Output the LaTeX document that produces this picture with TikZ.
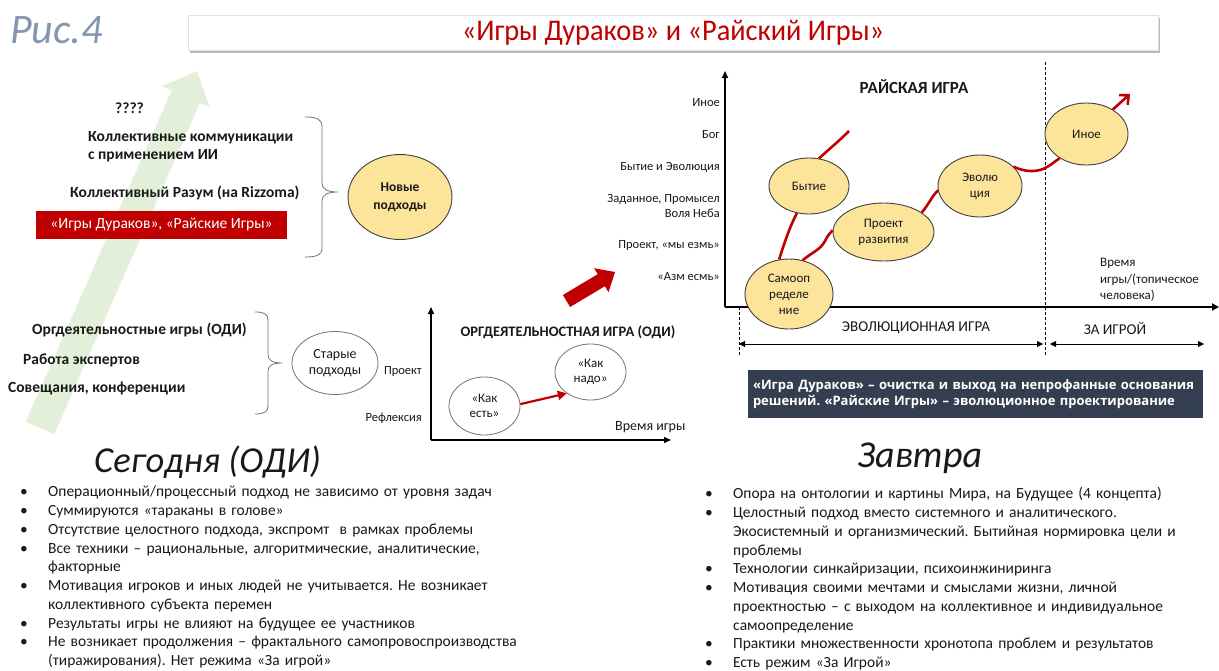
\documentclass[tikz,border=0pt]{standalone}
\usepackage{fontspec}
\setmainfont{Carlito}
\newfontfamily\boxfont{Open Sans}
\usetikzlibrary{arrows.meta,shadows,shapes.geometric}
\frenchspacing
\definecolor{dred}{RGB}{192,0,0}
\definecolor{lgreen}{RGB}{226,240,217}
\definecolor{yel}{RGB}{253,228,155}
\definecolor{slate}{RGB}{132,150,176}
\definecolor{navy}{RGB}{51,63,80}
\definecolor{txt}{RGB}{25,25,25}
\newcommand\fsz[2]{\fontsize{#1}{#2}\selectfont}
\newcommand\bitem[1]{\par\noindent\hangindent=28pt\hangafter=1\makebox[28pt][l]{\textbullet}#1}
\tikzset{
  lbl/.style={inner sep=0pt, text=txt},
  boldlbl/.style={lbl, font=\bfseries\fsz{15.5}{18}},
  axlbl/.style={lbl, font=\fsz{12.5}{15}, anchor=east},
  yellipse/.style={ellipse, draw=black!75, line width=0.9pt, fill=yel, inner sep=0pt, align=center, text=txt, font=\fsz{13}{16}},
  wellipse/.style={ellipse, draw=black!55, line width=0.8pt, fill=white, inner sep=0pt, align=center, text=txt},
  redc/.style={draw=dred, line width=2.6pt},
  tri/.style={-{Triangle[length=7pt,width=6pt]}},
  dtri/.style={{Triangle[length=6pt,width=6pt]}-{Triangle[length=6pt,width=6pt]}, line width=0.9pt},
  bracestyle/.style={draw=black!55, line width=0.8pt}
}
\begin{document}
\begin{tikzpicture}[x=1pt,y=-1pt]
\useasboundingbox (0,0) rectangle (1219,670);
\fill[white] (0,0) rectangle (1219,670);

% green arrow
\fill[lgreen] (25.8,421.8) -- (171.6,90.5) -- (162.0,86.3) -- (197,71) -- (209.6,107.1) -- (200.0,102.9) -- (54.2,434.2) -- cycle;

% title
\node[lbl, text=slate, anchor=west, font=\itshape\fsz{42}{48}] (ris) at (10,30) {Рис.4};
\node[fill=white, draw=black!12, drop shadow={shadow xshift=1.5pt, shadow yshift=-3pt, opacity=0.45, fill=black!60}, minimum width=970pt, minimum height=35pt, inner sep=0pt, text=dred, font=\fsz{30}{32}] (title) at (673,32.5) {\scalebox{0.945}[1]{«Игры Дураков» и «Райский Игры»}};

% upper left
\node[boldlbl, anchor=west] (q) at (115,108) {????};
\node[boldlbl, anchor=west, align=left, font=\bfseries\fsz{15.5}{17.5}] (kk) at (88,146.5) {Коллективные коммуникации\\с применением ИИ};
\node[boldlbl, anchor=west] (kr) at (70,193) {Коллективный Разум (на Rizzoma)};
\node[fill=dred, text=white, minimum width=251pt, minimum height=28pt, inner sep=0pt, font=\fsz{15.5}{18}] (redbox) at (161.5,225) {«Игры Дураков», «Райские Игры»};
\draw[bracestyle] (305,117) .. controls (317,117) and (322,119) .. (322,127) -- (322,183) .. controls (322,189) and (327,192) .. (338,192) .. controls (327,192) and (322,195) .. (322,201) -- (322,248) .. controls (322,255) and (317,257) .. (305,257);
\node[yellipse, minimum width=104pt, minimum height=85pt, font=\bfseries\fsz{13.5}{18}] (novye) at (400,197) {Новые\\подходы};

% lower left
\node[boldlbl, anchor=west] (odi) at (32,330) {Оргдеятельностные игры (ОДИ)};
\node[boldlbl, anchor=west] (exp) at (23,360) {Работа экспертов};
\node[boldlbl, anchor=west] (sov) at (8,388) {Совещания, конференции};
\draw[bracestyle] (255,312) .. controls (264,312) and (268,314) .. (268,320) -- (268,355) .. controls (268,360) and (272,363) .. (282,363) .. controls (272,363) and (268,366) .. (268,371) -- (268,406) .. controls (268,412) and (264,414) .. (255,414);
\node[wellipse, minimum width=86pt, minimum height=63pt, font=\fsz{14}{16.5}] (stary) at (335,363) {Старые\\подходы};

% ODI chart
\coordinate (o0) at (431,440);
\coordinate (oy) at (431,307);
\coordinate (ox) at (671,440);
\draw[line width=1.3pt, tri] (o0) -- (oy);
\draw[line width=1.3pt, tri] (o0) -- (ox);
\node[lbl, font=\bfseries\fsz{14.5}{17}] (oditit) at (568,332) {ОРГДЕЯТЕЛЬНОСТНАЯ ИГРА (ОДИ)};
\node[axlbl] (proj) at (422,371) {Проект};
\node[axlbl] (refl) at (422,418) {Рефлексия};
\node[lbl, anchor=west, font=\fsz{14}{17}] (vremya1) at (615,427) {Время игры};
\node[wellipse, minimum width=71pt, minimum height=58pt, font=\fsz{13}{15}] (kakest) at (484.5,406) {«Как\\есть»};
\node[wellipse, minimum width=71pt, minimum height=56pt, font=\fsz{13}{15}] (kaknado) at (590.5,372) {«Как\\надо»};
\draw[draw=dred, line width=2.2pt, -{Triangle[length=9pt,width=9pt]}] (kakest.3) -- (kaknado.222);

% big red arrow
\fill[dred] (562.9,295.0) -- (597.7,274.2) -- (594.1,268.2) -- (615,272) -- (608.5,292.2) -- (604.9,286.2) -- (570.1,307.0) -- cycle;

% right chart
\coordinate (r0) at (725,307);
\coordinate (ry) at (725,71);
\coordinate (rx) at (1219,307);
\draw[line width=1.3pt, tri] (r0) -- (ry);
\draw[line width=2.3pt, -{Triangle[length=7pt,width=7pt]}] (r0) -- (rx);
\coordinate (dtop) at (1045,62);
\coordinate (dbot) at (1045,355);
\coordinate (ltop) at (739,307);
\coordinate (lbot) at (739,355);
\draw[dashed, line width=0.8pt, dash pattern=on 3pt off 2pt] (dtop) -- (dbot);
\draw[dashed, line width=0.8pt, dash pattern=on 3pt off 2pt] (ltop) -- (lbot);
\node[axlbl] (l1) at (720,103) {Иное};
\node[axlbl] (l2) at (720,135) {Бог};
\node[axlbl] (l3) at (720,167) {Бытие и Эволюция};
\node[axlbl, align=right, font=\fsz{12.5}{15}] (l4) at (720,205.5) {Заданное, Промысел\\Воля Неба};
\node[axlbl] (l5) at (720,245) {Проект, «мы езмь»};
\node[axlbl] (l6) at (720,277) {«Азм есмь»};
\node[lbl, font=\bfseries\fsz{17}{20}] (rait) at (914,87) {РАЙСКАЯ ИГРА};

\node[yellipse, minimum width=88pt, minimum height=70pt] (self) at (789,294) {Самооп\\ределе\\ние};
\node[yellipse, minimum width=80pt, minimum height=56pt] (bytie) at (809,186) {Бытие};
\node[yellipse, minimum width=101pt, minimum height=58pt] (proekt) at (883.5,232) {Проект\\развития};
\node[yellipse, minimum width=84pt, minimum height=62pt] (evol) at (980,186) {Эволю\\ция};
\node[yellipse, minimum width=83pt, minimum height=62pt] (inoe) at (1086.5,134) {Иное};

\coordinate (rtop) at (849,131);
\coordinate (rarr) at (1130,94);
\draw[redc] (self.106) .. controls (784,244) and (790,226) .. (bytie.246);
\draw[redc] (bytie.70) .. controls (828,150) and (838,142) .. (rtop);
\draw[redc] (self.68) .. controls (814,251) and (820,250) .. (825,241) .. controls (828,235) and (830,233) .. (proekt.178);
\draw[redc] (proekt.27) .. controls (929,204) and (932,196) .. (evol.186);
\draw[redc] (evol.30) .. controls (1025,172) and (1035,172) .. (1043,169) .. controls (1050,166) and (1054,162) .. (inoe.222);
\draw[redc, -{Straight Barb[length=7pt,width=13pt]}] (inoe.43) -- (rarr);

\node[lbl, anchor=north west, align=left, font=\fsz{13}{16.7}] (vremya2) at (1100,258) {Время\\игры/(топическое\\человека)};
\node[lbl, font=\fsz{15}{18}] (evig) at (916,328) {ЭВОЛЮЦИОННАЯ ИГРА};
\node[lbl, font=\fsz{15}{18}] (zaig) at (1115,328) {ЗА ИГРОЙ};
\coordinate (a1) at (739,344);
\coordinate (a2) at (1043,344);
\coordinate (a3) at (1050,344);
\coordinate (a4) at (1204,344);
\draw[dtri] (a1) -- (a2);
\draw[dtri] (a3) -- (a4);

\node[fill=navy, text=white, text width=445pt, inner xsep=5pt, inner ysep=0pt, minimum height=48pt, align=left, font=\boxfont\bfseries\fsz{13}{15.5}] (dark) at (975.5,394) {«Игра Дураков» – очистка и выход на непрофанные основания\\решений. «Райские Игры» – эволюционное проектирование};

% bottom
\node[lbl, anchor=west, font=\itshape\fsz{36.5}{42}] (seg) at (94,462) {Сегодня (ОДИ)};
\node[lbl, anchor=west, font=\itshape\fsz{38}{44}] (zav) at (857,458) {Завтра};

\node[lbl, anchor=base west, text width=640pt, font=\fsz{15.5}{18.75}] (listL) at (20,478) {\raggedright
\bitem{Операционный/процессный подход не зависимо от уровня задач}
\bitem{Суммируются «тараканы в голове»}
\bitem{Отсутствие целостного подхода, экспромт\ \ в рамках проблемы}
\bitem{Все техники – рациональные, алгоритмические, аналитические,\newline факторные}
\bitem{Мотивация игроков и иных людей не учитывается. Не возникает\newline коллективного субъекта перемен}
\bitem{Результаты игры не влияют на будущее ее участников}
\bitem{Не возникает продолжения – фрактального самопровоспроизводства\newline (тиражирования). Нет режима «За игрой»}\par};

\node[lbl, anchor=base west, text width=510pt, font=\fsz{15.5}{18.75}] (listR) at (705,480) {\raggedright
\bitem{Опора на онтологии и картины Мира, на Будущее (4 концепта)}
\bitem{Целостный подход вместо системного и аналитического.\newline Экосистемный и организмический. Бытийная нормировка цели и\newline проблемы}
\bitem{Технологии синкайризации, психоинжиниринга}
\bitem{Мотивация своими мечтами и смыслами жизни, личной\newline проектностью – с выходом на коллективное и индивидуальное\newline самоопределение}
\bitem{Практики множественности хронотопа проблем и результатов}
\bitem{Есть режим «За Игрой»}\par};
\end{tikzpicture}
\end{document}
